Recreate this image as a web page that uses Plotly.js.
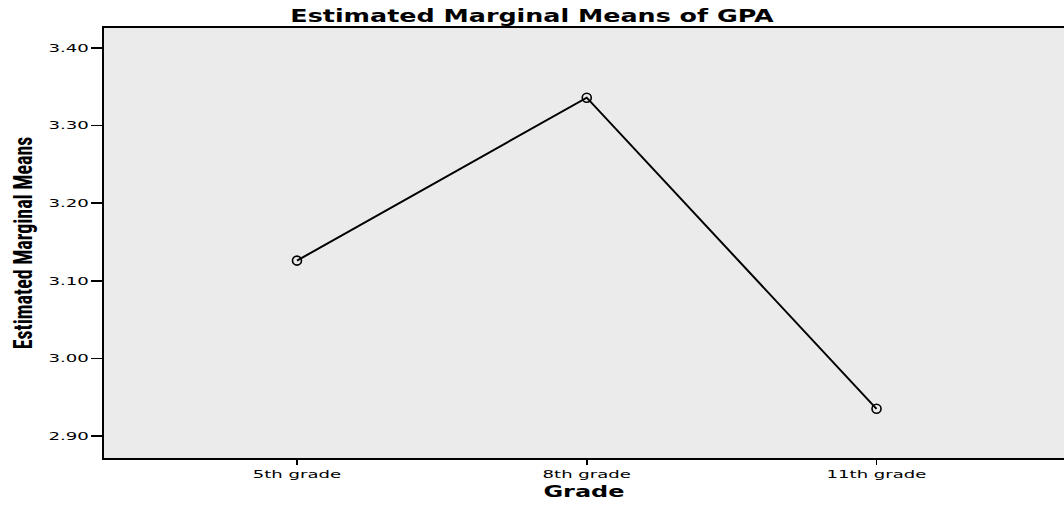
<!DOCTYPE html>
<html>
<head>
<meta charset="utf-8">
<script src="https://cdn.plot.ly/plotly-3.0.1.min.js"></script>
<style>html,body{margin:0;padding:0;background:#fff;}#chart{width:1064px;height:506px;}</style>
</head>
<body>
<div id="chart"></div>
<script>
const grades = ["5th grade", "8th grade", "11th grade"];
const gpaMeans = [3.126, 3.336, 2.935];
const yTickValues = [2.90, 3.00, 3.10, 3.20, 3.30, 3.40];
const yTickLabels = ["2.90", "3.00", "3.10", "3.20", "3.30", "3.40"];

const trace = {
  x: [0, 1, 2],
  y: gpaMeans,
  type: "scatter",
  mode: "lines+markers",
  line: {color: "#000", width: 2},
  marker: {symbol: "circle-open", size: 9, color: "#000", line: {width: 1.6, color: "#000"}},
  hoverinfo: "skip"
};

const layout = {
  width: 1064, height: 506,
  margin: {l: 104, r: 0, t: 28, b: 48},
  paper_bgcolor: "#fff",
  plot_bgcolor: "#ebebeb",
  showlegend: false,
  title: {text: "<b>Estimated Marginal Means of GPA</b>", x: 0.5, xref: "container", xanchor: "center", y: 0.968, yanchor: "middle",
          font: {family: "DejaVu Sans", size: 18, color: "#000"}},
  xaxis: {
    range: [-0.666, 2.647],
    tickvals: [0, 1, 2], ticktext: grades,
    ticks: "outside", ticklen: 5, tickwidth: 1.5, tickcolor: "#000",
    showline: true, linecolor: "#000", linewidth: 2, mirror: true,
    showgrid: false, zeroline: false,
    tickfont: {family: "DejaVu Sans", size: 11, color: "#000"},
    title: {text: "<b>Grade</b>", font: {family: "DejaVu Sans", size: 16, color: "#000"}, standoff: 6}
  },
  yaxis: {
    range: [2.8716, 3.4258],
    tickvals: yTickValues, ticktext: yTickLabels,
    ticks: "outside", ticklen: 11, tickwidth: 1.5, tickcolor: "#000",
    showline: true, linecolor: "#000", linewidth: 2, mirror: false,
    showgrid: false, zeroline: false,
    tickfont: {family: "DejaVu Sans", size: 11, color: "#000"},
    title: {text: "<b>Estimated Marginal Means</b>", font: {family: "Liberation Sans Narrow, Roboto Condensed, Liberation Sans", size: 20, color: "#000"}, standoff: 28}
  }
};

function stretch(sel, sx, sy) {
  document.querySelectorAll(sel).forEach(el => {
    const bb = el.getBBox();
    const anchor = el.getAttribute("text-anchor") || "middle";
    let ax = bb.x + bb.width / 2;
    if (anchor === "end") ax = bb.x + bb.width;
    else if (anchor === "start") ax = bb.x;
    const ay = bb.y + bb.height / 2;
    const t = el.getAttribute("transform") || "";
    el.setAttribute("transform", t + ` translate(${ax},${ay}) scale(${sx},${sy}) translate(${-ax},${-ay})`);
  });
}

Plotly.newPlot("chart", [trace], layout, {displayModeBar: false, staticPlot: true}).then(() => {
  stretch(".gtitle", 1.41, 1);
  stretch(".xtick text", 1.64, 1);
  stretch(".ytick text", 1.65, 1);
  stretch(".xtitle", 1.5, 1);
  stretch(".ytitle", 1, 1.3);
});
</script>
</body>
</html>
